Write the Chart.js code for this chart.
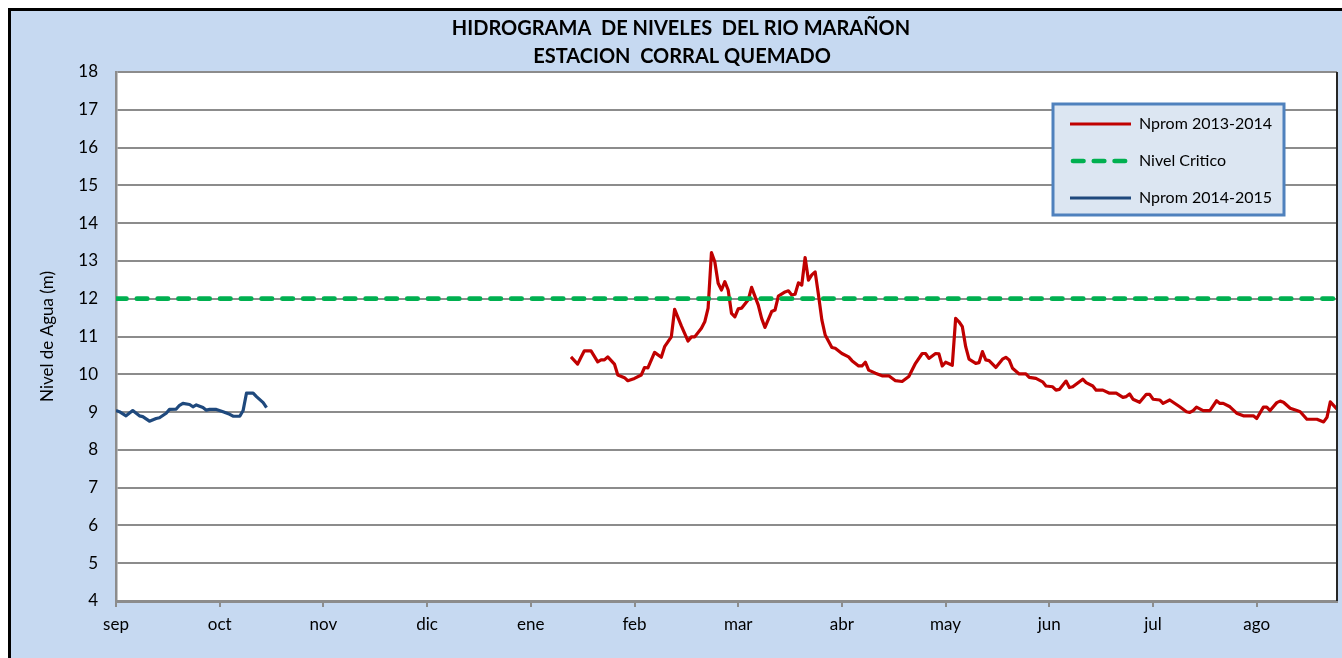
<!DOCTYPE html>
<html>
<head>
<meta charset="utf-8">
<title>Hidrograma de niveles del Rio Marañon</title>
<script src="https://cdn.jsdelivr.net/npm/chart.js@4.4.1/dist/chart.umd.min.js"></script>
<style>
  html, body { margin: 0; padding: 0; background: #fff; }
  #wrap { width: 1342px; height: 658px; }
</style>
</head>
<body>
<div id="wrap"><canvas id="hidrograma" width="1342" height="658"></canvas></div>
<script>
'use strict';

// x axis: one category per day starting 1 sep, a month label every 31 days
var months = ['sep', 'oct', 'nov', 'dic', 'ene', 'feb', 'mar', 'abr', 'may', 'jun', 'jul', 'ago'];
var monthStartDays = [0, 31, 62, 93, 124, 155, 186, 217, 248, 279, 310, 341];
var lastDay = 365;

var titleLines = ['HIDROGRAMA  DE NIVELES  DEL RIO MARAÑON', 'ESTACION  CORRAL QUEMADO'];
var yTitle = 'Nivel de Agua (m)';

// Nprom 2013-2014 (red)
var days1314 = [136, 138, 139, 140, 142, 144, 145, 146, 147, 149, 150, 152, 153, 155, 157, 158, 159, 161, 163, 164,
  166, 167, 169, 171, 172, 173, 175, 176, 177, 178, 179, 180, 181, 182, 183, 184, 185, 186, 187, 189,
  190, 192, 193, 194, 196, 197, 198, 200, 201, 202, 203, 204, 205, 206, 207, 208, 209, 210, 211, 212,
  214, 215, 217, 219, 220, 222, 223, 224, 225, 227, 229, 231, 233, 235, 237, 239, 241, 242, 243, 245,
  246, 247, 248, 250, 251, 252, 253, 254, 255, 257, 258, 259, 260, 261, 263, 265, 266, 267, 268, 270,
  272, 273, 275, 277, 278, 280, 281, 282, 284, 285, 286, 289, 290, 292, 293, 295, 297, 299, 301, 302,
  303, 304, 306, 308, 309, 310, 312, 313, 315, 316, 318, 320, 321, 322, 323, 325, 327, 329, 330, 331,
  333, 335, 337, 340, 341, 343, 344, 345, 347, 348, 349, 351, 353, 354, 356, 359, 361, 362, 363, 365];
var nprom1314 = [10.46, 10.27, 10.45, 10.62, 10.62, 10.33, 10.38, 10.38, 10.46, 10.27, 9.98, 9.91, 9.83, 9.89, 9.98, 10.18, 10.17, 10.58, 10.45, 10.73,
  10.99, 11.72, 11.28, 10.88, 10.99, 10.99, 11.22, 11.39, 11.75, 13.22, 12.98, 12.41, 12.23, 12.45, 12.23, 11.61, 11.52, 11.73, 11.75, 11.97,
  12.30, 11.83, 11.48, 11.24, 11.66, 11.70, 12.07, 12.18, 12.21, 12.10, 12.12, 12.42, 12.36, 13.09, 12.49, 12.63, 12.71, 12.10, 11.44, 11.04,
  10.71, 10.69, 10.55, 10.46, 10.36, 10.22, 10.22, 10.32, 10.11, 10.03, 9.96, 9.96, 9.83, 9.81, 9.94, 10.29, 10.55, 10.55, 10.42, 10.55,
  10.54, 10.22, 10.32, 10.24, 11.48, 11.39, 11.26, 10.73, 10.40, 10.29, 10.31, 10.60, 10.38, 10.36, 10.18, 10.40, 10.45, 10.38, 10.16, 10.01,
  10.01, 9.92, 9.89, 9.80, 9.69, 9.67, 9.58, 9.60, 9.82, 9.65, 9.67, 9.87, 9.78, 9.69, 9.58, 9.58, 9.50, 9.50, 9.39, 9.41,
  9.48, 9.34, 9.26, 9.47, 9.47, 9.34, 9.32, 9.23, 9.32, 9.26, 9.14, 9.01, 8.99, 9.04, 9.13, 9.04, 9.04, 9.30, 9.23, 9.23,
  9.14, 8.97, 8.90, 8.90, 8.83, 9.13, 9.13, 9.04, 9.25, 9.29, 9.26, 9.10, 9.04, 9.01, 8.81, 8.81, 8.74, 8.86, 9.27, 9.08];

// Nivel critico (green dashed)
var daysCritico = [0, 365];
var nivelCritico = [12, 12];

// Nprom 2014-2015 (blue)
var days1415 = [0, 1, 3, 5, 7, 8, 10, 12, 13, 15, 16, 18, 19, 20, 22, 23, 24, 26, 27, 28, 30, 32, 34, 35, 37, 38, 39, 41, 42, 44, 45];
var nprom1415 = [9.04, 9.01, 8.90, 9.04, 8.90, 8.88, 8.76, 8.83, 8.85, 8.97, 9.07, 9.08, 9.18, 9.23, 9.20, 9.14, 9.19, 9.12, 9.05, 9.07,
  9.07, 9.01, 8.94, 8.89, 8.89, 9.04, 9.50, 9.50, 9.41, 9.25, 9.12];

var yMin = 4;
var yMax = 18;

function toPoints(days, values) {
  return days.map(function(d, i) {
    return { x: d, y: values[i] };
  });
}

var FONT = 'Lato, "Liberation Sans", sans-serif';
var GRID = '#8c8c8c';

// light blue background, black outer frame, title, right plot edge and the legend box
var framePlugin = {
  id: 'frame',
  beforeDraw: function(chart) {
    var ctx = chart.ctx;
    var a = chart.chartArea;
    ctx.save();
    ctx.fillStyle = '#ffffff';
    ctx.fillRect(0, 0, chart.width, chart.height);
    ctx.fillStyle = '#c6d9f1';
    ctx.fillRect(9.5, 9.5, chart.width, chart.height);
    ctx.strokeStyle = '#000000';
    ctx.lineWidth = 3;
    ctx.strokeRect(9.5, 9.5, chart.width + 20, chart.height + 20);
    ctx.fillStyle = '#ffffff';
    ctx.fillRect(a.left, a.top, a.right - a.left, a.bottom - a.top);
    ctx.restore();
  },
  afterDraw: function(chart) {
    var ctx = chart.ctx;
    var a = chart.chartArea;
    ctx.save();
    // title
    ctx.fillStyle = '#000000';
    ctx.font = 'bold 20px ' + FONT;
    ctx.textAlign = 'center';
    ctx.textBaseline = 'middle';
    ctx.fillText(titleLines[0], 681, 29);
    ctx.fillText(titleLines[1], 682, 57);

    // right edge of the plot
    ctx.strokeStyle = '#262626';
    ctx.lineWidth = 2;
    ctx.beginPath();
    ctx.moveTo(a.right, a.top);
    ctx.lineTo(a.right, a.bottom);
    ctx.stroke();

    // legend
    var box = { x: 1053, y: 104, w: 231, h: 111 };
    ctx.fillStyle = '#dce6f2';
    ctx.fillRect(box.x, box.y, box.w, box.h);
    ctx.strokeStyle = '#4f81bd';
    ctx.lineWidth = 3;
    ctx.strokeRect(box.x, box.y, box.w, box.h);
    var rows = [124, 161, 198];
    ctx.font = '16px ' + FONT;
    ctx.textAlign = 'left';
    chart.data.datasets.forEach(function(ds, i) {
      var y = rows[i];
      ctx.strokeStyle = ds.borderColor;
      ctx.lineWidth = ds.borderWidth;
      ctx.lineCap = ds.borderCapStyle || 'butt';
      ctx.setLineDash(ds.borderDash || []);
      ctx.beginPath();
      ctx.moveTo(ds.borderDash ? 1073 : 1070, y);
      ctx.lineTo(1131, y);
      ctx.stroke();
      ctx.setLineDash([]);
      ctx.fillStyle = '#000000';
      ctx.fillText(ds.label, 1139, y);
    });
    ctx.restore();
  }
};

var ctx = document.getElementById('hidrograma').getContext('2d');
var chart = new Chart(ctx, {
  type: 'line',
  data: {
    datasets: [{
      label: 'Nprom 2013-2014',
      data: toPoints(days1314, nprom1314),
      borderColor: '#c00000',
      borderWidth: 3.2,
      borderJoinStyle: 'round',
      pointRadius: 0,
      tension: 0,
      order: 2
    }, {
      label: 'Nivel Critico',
      data: toPoints(daysCritico, nivelCritico),
      borderColor: '#00b050',
      borderWidth: 4.7,
      borderDash: [10.5, 10.3],
      borderCapStyle: 'round',
      pointRadius: 0,
      order: 1
    }, {
      label: 'Nprom 2014-2015',
      data: toPoints(days1415, nprom1415),
      borderColor: '#1f497d',
      borderWidth: 3.2,
      borderJoinStyle: 'round',
      pointRadius: 0,
      tension: 0,
      order: 0
    }]
  },
  options: {
    responsive: false,
    animation: false,
    layout: {
      padding: { left: 0, top: 72, right: 5, bottom: 0 }
    },
    plugins: {
      legend: { display: false },
      title: { display: false },
      tooltip: { enabled: false }
    },
    scales: {
      x: {
        type: 'linear',
        min: 0,
        max: lastDay,
        afterBuildTicks: function(scale) {
          scale.ticks = monthStartDays.map(function(d) {
            return { value: d };
          });
        },
        afterFit: function(scale) {
          scale.height = 57;
        },
        ticks: {
          autoSkip: false,
          maxRotation: 0,
          color: '#000000',
          padding: 7,
          font: { family: FONT, size: 17 },
          callback: function(value) {
            return months[monthStartDays.indexOf(value)];
          }
        },
        grid: {
          drawOnChartArea: false,
          drawTicks: true,
          tickLength: 6,
          color: GRID,
          lineWidth: 2
        },
        border: {
          color: GRID,
          width: 3,
          dash: [1, 2.35]
        }
      },
      y: {
        min: yMin,
        max: yMax,
        afterFit: function(scale) {
          scale.width = 116;
        },
        ticks: {
          stepSize: 1,
          color: '#000000',
          padding: 18,
          font: { family: FONT, size: 17 }
        },
        grid: {
          drawTicks: false,
          lineWidth: 2,
          color: function(c) {
            return c.tick && c.tick.value === yMin ? 'rgba(0,0,0,0)' : GRID;
          }
        },
        border: {
          color: GRID,
          width: 2.5
        },
        title: {
          display: true,
          text: yTitle,
          color: '#000000',
          font: { family: FONT, size: 17 },
          padding: { top: 37, bottom: 0 }
        }
      }
    }
  },
  plugins: [framePlugin]
});
</script>
</body>
</html>
